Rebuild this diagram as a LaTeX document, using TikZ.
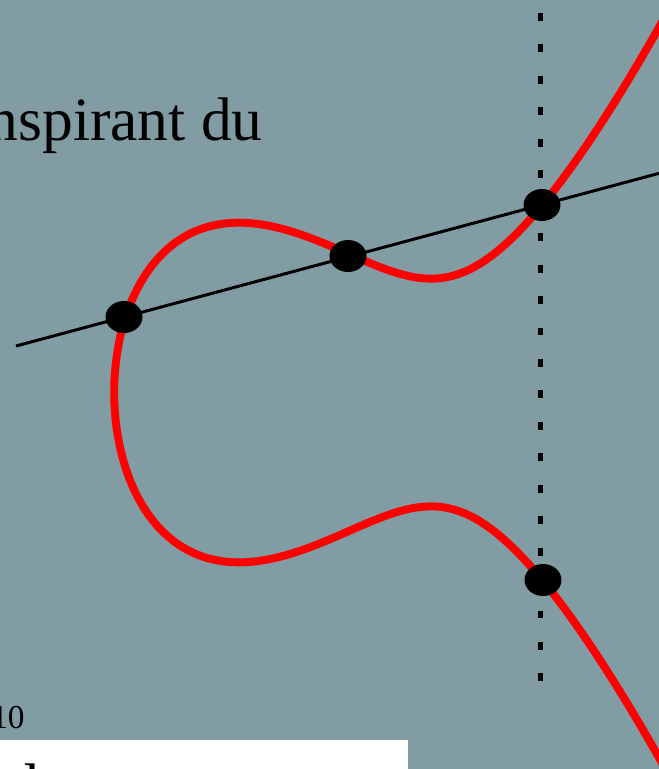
\documentclass[tikz,border=0pt]{standalone}
\usepackage{fontspec}
\setmainfont{Liberation Serif}
\usepackage{tikz}
\usetikzlibrary{shapes.geometric}
\definecolor{slidegray}{HTML}{829CA3}
\definecolor{curvered}{HTML}{FF0000}

\begin{document}
\begin{tikzpicture}[x=0.02cm,y=-0.02cm,
      ptdot/.style={ellipse,fill=black,inner sep=0pt,minimum width=0.74cm,minimum height=0.64cm},
      curve/.style={curvered,line width=4.5pt,line join=round},
      chord/.style={black,line width=1.7pt},
      vdots/.style={black,line width=3.4pt,dash pattern=on 4.5pt off 13.4pt}
    ]
    \useasboundingbox (0,0) rectangle (659,769);
    \clip (0,0) rectangle (659,769);
    \fill[slidegray] (0,0) rectangle (659,769);
    \node[anchor=base east,inner sep=0pt,font=\fontsize{35}{40}\selectfont] (title) at (263,140) {nspirant du};
    \node[anchor=base east,inner sep=0pt,font=\fontsize{19}{23}\selectfont] (pagenum) at (25,728) {10};
    \fill[white] (0,740) rectangle (408,780);
    \node[anchor=north west,inner sep=0pt,font=\fontsize{35}{40}\selectfont] (boxtext) at (8,763) {d};
    % vertical line through the third point and its mirror
    \coordinate (vtop) at (540.5,13);
    \coordinate (vbot) at (540.5,688);
    \draw[vdots] (vtop) -- (vbot);
    \draw[curve] plot[domain=-2.5:2.5,samples=300,smooth,variable=\t]
      ({335+96*(-2.3+\t*\t)},{392.5-63*\t*sqrt(12.87-6.9*\t*\t+\t*\t*\t*\t)});
    \coordinate (chordL) at (16,346);
    \coordinate (chordR) at (680,167.7);
    \draw[chord] (chordL) -- (chordR);
    \node[ptdot] (ptA) at (124,317) {};
    \node[ptdot] (ptB) at (348,256) {};
    \node[ptdot] (ptC) at (542,205) {};
    \node[ptdot] (ptSum) at (543,580) {};
  \end{tikzpicture}
\end{document}
